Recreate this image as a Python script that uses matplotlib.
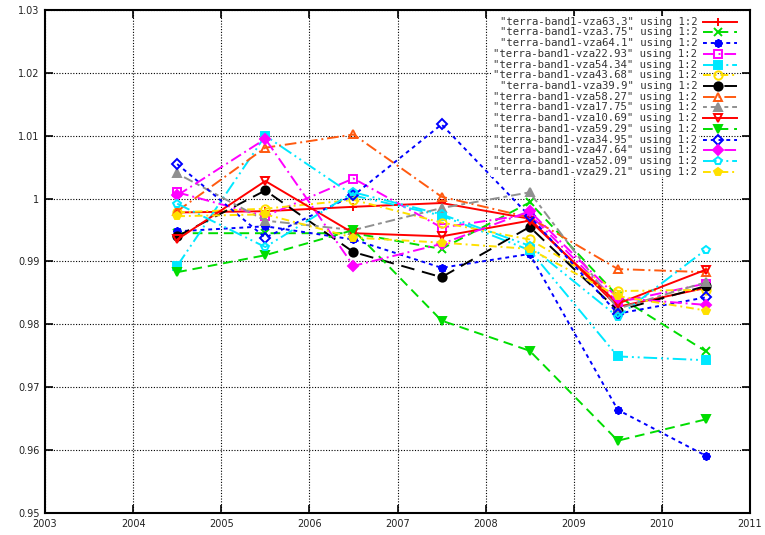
"""Terra band1 ratios per VZA, gnuplot-style multi-line chart."""

import matplotlib
import matplotlib.pyplot as plt
from matplotlib.patches import Rectangle
from matplotlib.ticker import FuncFormatter, MultipleLocator

matplotlib.use("Agg")

years = [2004.5, 2005.5, 2006.5, 2007.5, 2008.5, 2009.5, 2010.5]

# one list per data file, in legend order
vza63_3 = [0.9978, 0.9980, 0.9987, 0.9993, 0.9968, 0.9828, 0.9858]
vza3_75 = [0.9945, 0.9945, 0.9945, 0.9920, 0.9994, 0.9845, 0.9757]
vza64_1 = [0.9948, 0.9956, 0.9935, 0.9890, 0.9912, 0.9664, 0.9591]
vza22_93 = [1.0010, 0.9972, 1.0032, 0.9954, 0.9975, 0.9835, 0.9865]
vza54_34 = [0.9893, 1.0100, 1.0005, 0.9973, 0.9918, 0.9749, 0.9743]
vza43_68 = [0.9978, 0.9984, 0.9998, 0.9962, 0.9935, 0.9853, 0.9855]
vza39_9 = [0.9940, 1.0013, 0.9915, 0.9875, 0.9955, 0.9822, 0.9861]
vza58_27 = [0.9980, 1.0081, 1.0102, 1.0003, 0.9970, 0.9888, 0.9883]
vza17_75 = [1.0040, 0.9965, 0.9950, 0.9985, 1.0010, 0.9825, 0.9867]
vza10_69 = [0.9935, 1.0028, 0.9945, 0.9940, 0.9965, 0.9833, 0.9887]
vza59_29 = [0.9883, 0.9910, 0.9950, 0.9806, 0.9758, 0.9615, 0.9649]
vza34_95 = [1.0055, 0.9938, 1.0005, 1.0118, 0.9972, 0.9817, 0.9843]
vza47_64 = [1.0005, 1.0095, 0.9893, 0.9928, 0.9980, 0.9842, 0.9831]
vza52_09 = [0.9992, 0.9923, 1.0010, 0.9975, 0.9925, 0.9812, 0.9919]
vza29_21 = [0.9972, 0.9975, 0.9938, 0.9930, 0.9920, 0.9845, 0.9822]

series = [
    ("63.3", vza63_3), ("3.75", vza3_75), ("64.1", vza64_1), ("22.93", vza22_93),
    ("54.34", vza54_34), ("43.68", vza43_68), ("39.9", vza39_9), ("58.27", vza58_27),
    ("17.75", vza17_75), ("10.69", vza10_69), ("59.29", vza59_29), ("34.95", vza34_95),
    ("47.64", vza47_64), ("52.09", vza52_09), ("29.21", vza29_21),
]

# gnuplot line types 1..9, then repeating
COLORS = ["#ff0000", "#00dd00", "#0000ff", "#ff00ff", "#00e8ff",
          "#ffe000", "#000000", "#ff5a10", "#909090"]
DASHES = ["-", (0, (5, 3)), (0, (2, 2)), (0, (6, 2, 1, 2)), (0, (7, 2, 1, 2, 1, 2)),
          (0, (4, 2, 1, 2)), (0, (7, 4)), (0, (6, 2, 1, 2)), (0, (2, 2, 5, 2))]
# (marker, filled) for gnuplot point types 1..15
MARKERS = [("+", True), ("x", True), ((8, 2, 0), True), ("s", False), ("s", True),
           ("o", False), ("o", True), ("^", False), ("^", True), ("v", False),
           ("v", True), ("D", False), ("D", True), ("p", False), ("p", True)]


def style(i):
    c = COLORS[i % 9]
    m, filled = MARKERS[i]
    ms = 6 if m != "D" else 5
    return dict(color=c, ls=DASHES[i % 9], lw=1.4, marker=m, ms=ms, mew=1.4,
                mfc=c if filled else "none", mec=c)


fig = plt.figure(figsize=(7.65, 5.35), dpi=100)
ax = fig.add_axes([45 / 765, 22 / 535, 705 / 765, 503 / 535])

for i, (name, vals) in enumerate(series):
    ax.plot(years, vals, **style(i))

ax.set_xlim(2003, 2011)
ax.set_ylim(0.95, 1.03)
ax.xaxis.set_major_locator(MultipleLocator(1))
ax.yaxis.set_major_locator(MultipleLocator(0.01))
ax.yaxis.set_major_formatter(FuncFormatter(lambda v, _: f"{round(v, 4):g}"))
ax.xaxis.set_major_formatter(FuncFormatter(lambda v, _: f"{int(round(v))}"))
ax.grid(True, color="black", ls=(0, (1, 1.5)), lw=0.8)
ax.tick_params(direction="in", length=6, width=1.2, top=True, right=True,
               labelsize=7, labelcolor="#222222", pad=4)
for sp in ax.spines.values():
    sp.set_linewidth(1.5)

# gnuplot-like key: right-aligned text, sample line with point to the right
y0, dy = 0.977, 0.02135
n = len(series)
ax.add_patch(Rectangle((0.632, y0 - (n - 0.5) * dy), 0.296, n * dy,
                       transform=ax.transAxes, fc="white", ec="none", zorder=5))
for i, (name, _) in enumerate(series):
    y = y0 - i * dy
    ax.text(0.925, y, f'"terra-band1-vza{name}" using 1:2', transform=ax.transAxes,
            ha="right", va="center", fontsize=7.7, family="DejaVu Sans Mono",
            color="#333333", zorder=6)
    st = style(i)
    st.pop("marker")
    ms, mew, mfc, mec = st.pop("ms"), st.pop("mew"), st.pop("mfc"), st.pop("mec")
    ax.plot([0.933, 0.982], [y, y], transform=ax.transAxes, zorder=6, **st)
    m = MARKERS[i][0]
    ax.plot([0.955], [y], transform=ax.transAxes, ls="none", marker=m, ms=ms,
            mew=mew, mfc=mfc, mec=mec, zorder=7)

fig.savefig("out.png", dpi=100)
